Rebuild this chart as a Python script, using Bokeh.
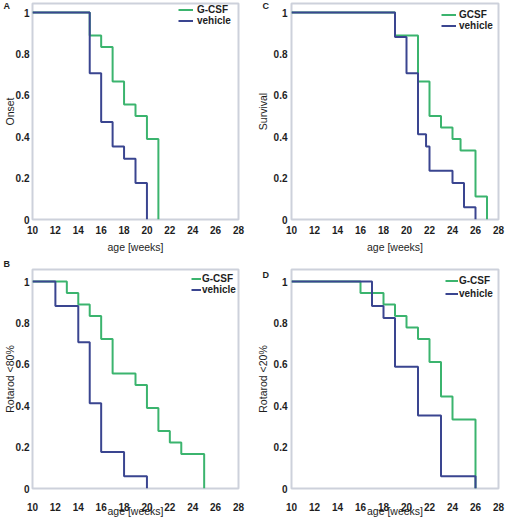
from bokeh.plotting import figure
from bokeh.layouts import column, row
from bokeh.models import Range1d, FixedTicker, Legend, LegendItem
from bokeh.embed import file_html
from bokeh.resources import INLINE

# ---------------- data ----------------
x_ticks = [10, 12, 14, 16, 18, 20, 22, 24, 26, 28]
y_ticks = [0, 0.2, 0.4, 0.6, 0.8, 1]

# A: Onset
onset_gcsf_x = [10, 15, 16, 17, 18, 19, 20, 21]
onset_gcsf_y = [1, 0.889, 0.833, 0.667, 0.556, 0.5, 0.389, 0]
onset_veh_x = [10, 15, 16, 17, 18, 19, 20]
onset_veh_y = [1, 0.706, 0.471, 0.353, 0.294, 0.176, 0]

# C: Survival
surv_gcsf_x = [10, 19, 21, 22, 23, 24, 24.7, 26, 27]
surv_gcsf_y = [1, 0.889, 0.667, 0.5, 0.444, 0.389, 0.333, 0.111, 0]
surv_veh_x = [10, 19, 20, 21, 21.7, 22, 24, 25, 26]
surv_veh_y = [1, 0.882, 0.706, 0.412, 0.353, 0.235, 0.176, 0.059, 0]

# B: Rotarod <80%
r80_gcsf_x = [10, 13, 14, 15, 16, 17, 19, 20, 21, 22, 23, 25]
r80_gcsf_y = [1, 0.944, 0.889, 0.833, 0.722, 0.556, 0.5, 0.389, 0.278, 0.222, 0.167, 0]
r80_veh_x = [10, 12, 14, 15, 16, 18, 20]
r80_veh_y = [1, 0.882, 0.706, 0.412, 0.176, 0.059, 0]

# D: Rotarod <20%
r20_gcsf_x = [10, 16, 18, 19, 20, 21, 22, 23, 24, 26]
r20_gcsf_y = [1, 0.944, 0.889, 0.833, 0.778, 0.722, 0.611, 0.444, 0.333, 0]
r20_veh_x = [10, 17, 18, 19, 21, 23, 26]
r20_veh_y = [1, 0.882, 0.824, 0.588, 0.353, 0.059, 0]

GREEN = "#3bb46e"
BLUE = "#3a4590"
FRAME = "#cdd1db"
TXT = "#1e1e1e"
FONT = "Liberation Sans"


def make_panel(letter, ylabel, gx, gy, vx, vy, glabel, vlabel, cfg):
    W, H = cfg["w"], cfg["h"]
    bl, br, bt, bb = cfg["borders"]
    ytop = cfg["ytop"]
    p = figure(width=W, height=H, output_backend="svg", toolbar_location=None,
               x_range=Range1d(10, 28), y_range=Range1d(0, ytop),
               min_border_left=bl, min_border_right=br,
               min_border_top=bt, min_border_bottom=bb)
    p.outline_line_color = FRAME
    p.outline_line_width = 2
    p.xgrid.visible = False
    p.ygrid.visible = False
    p.background_fill_color = "white"
    p.border_fill_color = "white"

    # panel letter as the plot title, pulled to the left of the frame
    p.title.text = letter
    p.title.align = "left"
    p.title.offset = -29
    p.title.standoff = cfg["tstand"]
    p.title.vertical_align = cfg["tvalign"]
    p.title.text_font = FONT
    p.title.text_font_style = "bold"
    p.title.text_font_size = "9px"
    p.title.text_color = TXT

    for ax in (p.xaxis[0], p.yaxis[0]):
        ax.axis_line_color = None
        ax.major_tick_line_color = None
        ax.minor_tick_line_color = None
        ax.major_tick_out = 0
        ax.major_tick_in = 0
        ax.major_label_text_font = FONT
        ax.major_label_text_font_style = "bold"
        ax.major_label_text_font_size = "10px"
        ax.major_label_text_color = TXT
        ax.axis_label_text_font = FONT
        ax.axis_label_text_font_style = "normal"
        ax.axis_label_text_font_size = "10.5px"
        ax.axis_label_text_color = TXT

    p.xaxis.ticker = FixedTicker(ticks=x_ticks)
    p.yaxis.ticker = FixedTicker(ticks=y_ticks)
    p.yaxis.major_label_overrides = {0: "0", 1: "1"}
    p.xaxis.axis_label = "age [weeks]"
    p.yaxis.axis_label = ylabel
    p.xaxis.major_label_standoff = cfg["xstand"]
    p.xaxis.axis_label_standoff = cfg["xlabstand"]
    p.yaxis.major_label_standoff = cfg["ystand"]
    p.yaxis.axis_label_standoff = cfg["ylabstand"]

    rg = p.step(gx, gy, mode="after", line_color=GREEN, line_width=2)
    rv = p.step(vx, vy, mode="after", line_color=BLUE, line_width=2)

    lg = Legend(items=[LegendItem(label=glabel, renderers=[rg]),
                       LegendItem(label=vlabel, renderers=[rv])],
                location=cfg["lloc"], margin=0, padding=0,
                spacing=cfg["lspacing"], glyph_width=cfg["gw"], glyph_height=11,
                label_height=11, label_standoff=cfg["lstand"],
                label_text_font=FONT, label_text_font_style="bold",
                label_text_font_size="10px", label_text_color=TXT,
                background_fill_alpha=0, border_line_color=None)
    p.add_layout(lg)
    return p


cfgA = dict(w=250, h=260, borders=(32, 12, 3, 41), ytop=1.0435, xstand=6, xlabstand=4,
            ystand=3, ylabstand=-3, tstand=-15, tvalign="bottom",
            lloc=(146, 193), lspacing=0, gw=15, lstand=4)
cfgC = dict(w=255, h=260, borders=(41, 7, 3, 41), ytop=1.0435, xstand=6, xlabstand=4,
            ystand=4, ylabstand=2, tstand=-15, tvalign="bottom",
            lloc=(150, 188), lspacing=0, gw=15, lstand=3)
cfgB = dict(w=250, h=261, borders=(32, 12, 9, 33), ytop=1.058, xstand=14, xlabstand=-9,
            ystand=3, ylabstand=-3, tstand=-3, tvalign="top",
            lloc=(159, 193), lspacing=0, gw=10, lstand=1)
cfgD = dict(w=255, h=261, borders=(41, 7, 9, 33), ytop=1.058, xstand=14, xlabstand=-9,
            ystand=4, ylabstand=2, tstand=-21, tvalign="bottom",
            lloc=(154, 189), lspacing=2, gw=13, lstand=1)

pA = make_panel("A", "Onset", onset_gcsf_x, onset_gcsf_y, onset_veh_x, onset_veh_y,
                "G-CSF", "vehicle", cfgA)
pC = make_panel("C", "Survival", surv_gcsf_x, surv_gcsf_y, surv_veh_x, surv_veh_y,
                "GCSF", "vehicle", cfgC)
pB = make_panel("B", "Rotarod <80%", r80_gcsf_x, r80_gcsf_y, r80_veh_x, r80_veh_y,
                "G-CSF", "vehicle", cfgB)
pD = make_panel("D", "Rotarod <20%", r20_gcsf_x, r20_gcsf_y, r20_veh_x, r20_veh_y,
                "G-CSF", "vehicle", cfgD)

layout = column(row(pA, pC, spacing=0), row(pB, pD, spacing=0), spacing=0)

open("out.html", "w").write(file_html(layout, INLINE))
